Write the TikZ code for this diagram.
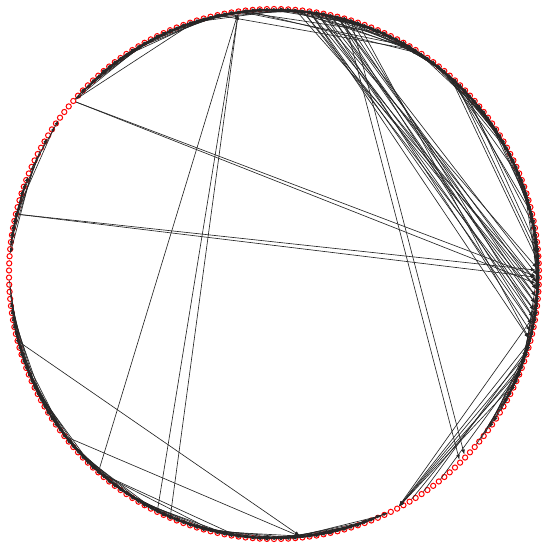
\documentclass[tikz,border=0pt]{standalone}
\usetikzlibrary{arrows.meta}
\begin{document}
\begin{tikzpicture}[x=1pt,y=1pt,
  vertex/.style={circle,draw=red,fill=white,line width=1pt,
                 minimum size=5.2pt,inner sep=0pt},
  link/.style={black!85,line width=0.65pt,-{Latex[length=5pt,width=3.6pt]}},
]
\useasboundingbox (-274,-270) rectangle (270,274);

% Vertices around the circle, numbered clockwise from the top
\foreach \k in {0,...,233}
  \node[vertex] (v\k) at ({90-\k/234*360}:265) {};

% Short links along the rim
\foreach \first/\last in {202/259,25/74,100/112,113/166,178/183}
  \foreach \k in {\first,...,\last} {
    \pgfmathtruncatemacro\src{mod(\k,234)}
    \pgfmathtruncatemacro\tgt{mod(\k+2+mod(7*\k,9),234)}
    \pgfmathtruncatemacro\bck{mod(\k+4+mod(5*\k,11),234)}
    \draw[link] (v\src) -- (v\tgt);
    \draw[link] (v\bck) -- (v\src);
  }

% Longer links along the rim
\foreach \s/\t in {229/16,229/20,226/21,230/22,2/21,4/22,6/21,8/22,1/18,
                   26/45,27/50,28/56,27/57,30/55,25/41,29/52,
                   202/223,184/198,186/196,190/199,151/165,151/163,
                   144/122,144/125,97/71,95/69,92/72}
  \draw[link] (v\s) -- (v\t);

% Chords across the circle
\foreach \s/\t in {144/229,134/229,132/229,
                   202/59,202/60,184/58,184/59,
                   166/113,151/113,113/103,113/104,
                   64/99,68/99,70/99,72/99,74/99,
                   10/88,11/87}
  \draw[link] (v\s) -- (v\t);

% Bundle from the top to the right side
\foreach \s/\t in {3/60,4/62,4/64,5/61,5/66,6/63,6/65,7/60,7/67,8/62,
                   8/64,9/61,9/66,10/63,11/65,6/58,9/59,12/68,5/68}
  \draw[link] (v\s) -- (v\t);

\end{tikzpicture}
\end{document}
